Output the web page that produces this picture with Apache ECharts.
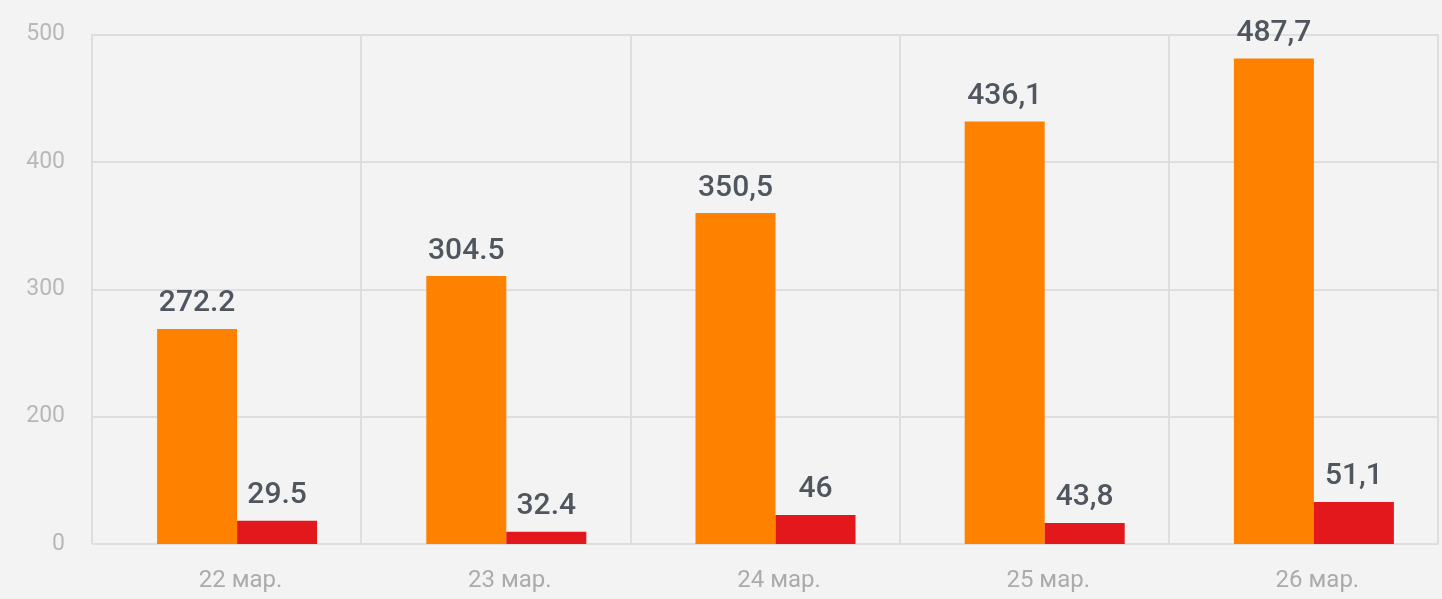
<!DOCTYPE html>
<html>
<head>
<meta charset="utf-8">
<script src="https://cdn.jsdelivr.net/npm/echarts@6/dist/echarts.min.js"></script>
<style>
html,body{margin:0;padding:0;background:#f3f3f3;}
#chart{width:1442px;height:599px;}
</style>
</head>
<body>
<div id="chart"></div>
<script>
// Categories (x axis)
const categories = ['22 мар.', '23 мар.', '24 мар.', '25 мар.', '26 мар.'];
// Tick labels shown on the (non-uniform) y axis of the original, bottom to top
const yTickLabels = ['0', '200', '300', '400', '500'];
// Bar heights, in units of the drawn axis grid (0..400 = the five gridlines)
const orangeHeights = [168.8, 210.4, 259.8, 331.6, 381.2];
const redHeights = [18.3, 9.7, 22.8, 16.5, 33.0];
// Value labels printed above the bars, as written in the picture
const orangeLabels = ['272.2', '304.5', '350,5', '436,1', '487,7'];
const redLabels = ['29.5', '32.4', '46', '43,8', '51,1'];
// empty spacer slot so the bar pairs sit slightly right of the band centre, as in the picture
const spacer = [0, 0, 0, 0, 0];

const chart = echarts.init(document.getElementById('chart'), null, {renderer: 'canvas'});

const labelStyle = {
  show: true,
  position: 'top',
  distance: 10,
  fontFamily: 'Roboto',
  fontSize: 30,
  fontWeight: 500,
  color: '#50565f'
};

chart.setOption({
  backgroundColor: '#f3f3f3',
  animation: false,
  grid: {left: 92, right: 4, top: 34.5, bottom: 55, containLabel: false},
  xAxis: {
    type: 'category',
    data: categories,
    axisLine: {show: false},
    axisTick: {show: false},
    splitLine: {show: true, interval: 0, lineStyle: {color: '#dedede', width: 2}},
    axisLabel: {
      fontFamily: 'Roboto',
      fontSize: 24,
      color: '#ababab',
      margin: 25,
      padding: [0, 0, 0, 28]
    }
  },
  yAxis: {
    type: 'value',
    min: 0,
    max: 400,
    interval: 100,
    axisLine: {show: false},
    axisTick: {show: false},
    splitLine: {show: true, lineStyle: {color: '#dedede', width: 2}},
    axisLabel: {
      fontFamily: 'Roboto',
      fontSize: 23,
      color: '#b8b8b8',
      margin: 27,
      formatter: function (v) { return yTickLabels[Math.round(v / 100)]; }
    }
  },
  series: [
    {
      type: 'bar',
      data: spacer,
      barWidth: 21,
      barGap: '0%',
      silent: true,
      itemStyle: {color: 'rgba(0,0,0,0)'},
      label: {show: false}
    },
    {
      type: 'bar',
      data: orangeHeights,
      barWidth: 80,
      barGap: '0%',
      itemStyle: {color: '#ff8100'},
      label: Object.assign({}, labelStyle, {
        formatter: function (p) { return orangeLabels[p.dataIndex]; }
      })
    },
    {
      type: 'bar',
      data: redHeights,
      barWidth: 80,
      barGap: '0%',
      itemStyle: {color: '#e3181d'},
      label: Object.assign({}, labelStyle, {
        formatter: function (p) { return redLabels[p.dataIndex]; }
      })
    }
  ]
});
</script>
</body>
</html>
